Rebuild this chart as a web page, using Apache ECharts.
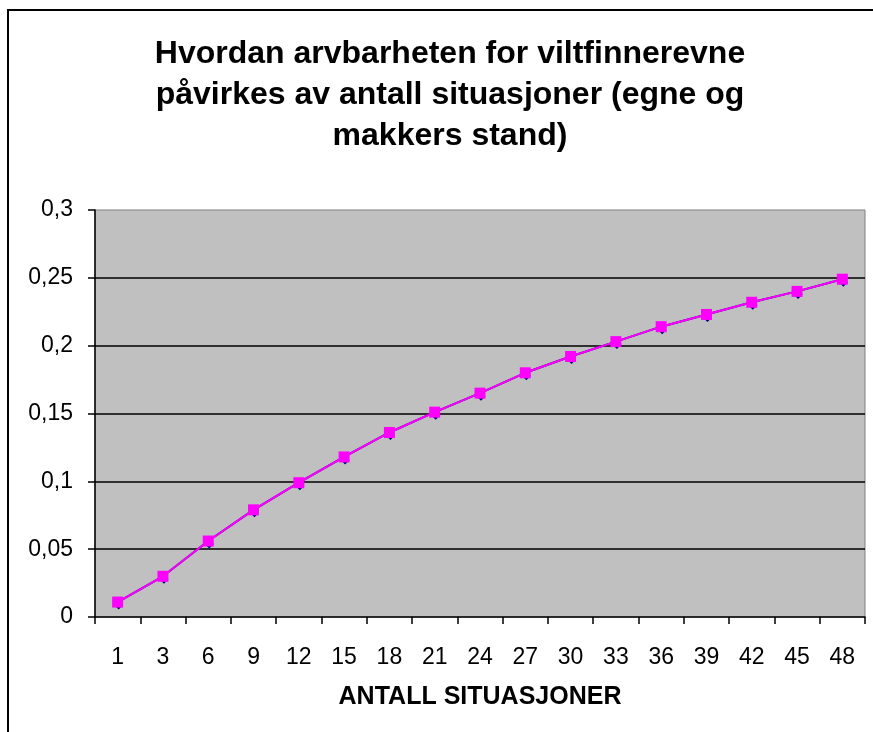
<!DOCTYPE html>
<html><head><meta charset="utf-8">
<script src="https://cdn.jsdelivr.net/npm/echarts@6/dist/echarts.min.js"></script>
<style>html,body{margin:0;padding:0;background:#fff}#c{width:873px;height:732px}</style>
</head><body><div id="c"></div>
<script>
var titleLines = ['Hvordan arvbarheten for viltfinnerevne', 'påvirkes av antall situasjoner (egne og', 'makkers stand)'];
var categories = ['1','3','6','9','12','15','18','21','24','27','30','33','36','39','42','45','48'];
var seriesNavy = [0.011,0.030,0.056,0.079,0.099,0.118,0.136,0.151,0.165,0.180,0.192,0.203,0.214,0.223,0.232,0.240,0.249];
var seriesMagenta = [0.011,0.030,0.056,0.079,0.099,0.118,0.136,0.151,0.165,0.180,0.192,0.203,0.214,0.223,0.232,0.240,0.249];
var xName = 'ANTALL SITUASJONER';
var yMin = 0, yMax = 0.3, yStep = 0.05;

var chart = echarts.init(document.getElementById('c'), null, {renderer:'canvas'});
var font = 'Liberation Sans, Arial, sans-serif';
chart.setOption({
  animation:false,
  backgroundColor:'#fff',
  graphic:[{type:'polyline', shape:{points:[[8,760],[8,10],[900,10]]}, style:{fill:null, stroke:'#000', lineWidth:2}, z:-1}],
  title:{text:titleLines.join('\n'), left:445, textAlign:'center', top:29, textStyle:{fontFamily:font, fontWeight:'bold', fontSize:32, lineHeight:41, color:'#000'}},
  grid:{left:95, top:210, width:770, height:407, show:true, backgroundColor:'#c0c0c0', borderColor:'#808080', borderWidth:1},
  xAxis:{type:'category', data:categories, boundaryGap:true,
    axisLine:{show:true, lineStyle:{color:'#000', width:1.5}},
    axisTick:{show:true, inside:false, length:7, alignWithLabel:false, lineStyle:{color:'#000', width:1.5}},
    axisLabel:{fontFamily:font, fontSize:23, color:'#000', margin:29},
    name:xName, nameLocation:'middle', nameGap:68,
    nameTextStyle:{fontFamily:font, fontWeight:'bold', fontSize:25, color:'#000'}},
  yAxis:{type:'value', min:yMin, max:yMax, interval:yStep,
    axisLine:{show:true, lineStyle:{color:'#000', width:1.5}},
    axisTick:{show:true, inside:false, length:7, lineStyle:{color:'#000', width:1.5}},
    axisLabel:{fontFamily:font, fontSize:23, color:'#000', margin:22, formatter:function(v){return String(Math.round(v*100)/100).replace('.',',');}},
    splitLine:{show:true, showMinLine:false, showMaxLine:false, lineStyle:{color:'#000', width:1.5}}},
  series:[
    {type:'line', data:seriesNavy, symbol:'diamond', symbolSize:9, symbolOffset:[1,3], lineStyle:{color:'#000080', width:2}, itemStyle:{color:'#000080'}, z:2},
    {type:'line', data:seriesMagenta, symbol:'rect', symbolSize:11, lineStyle:{color:'#ff00ff', width:2}, itemStyle:{color:'#ff00ff'}, z:3}
  ]
});
</script></body></html>
